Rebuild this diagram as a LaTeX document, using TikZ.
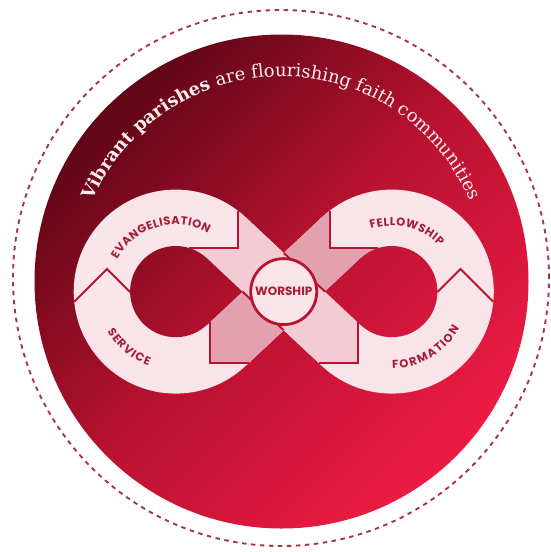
\documentclass[tikz,border=0pt]{standalone}
\usepackage{fontspec}
\setmainfont{DejaVu Serif}
\newfontfamily\labfont{Poppins}
\usetikzlibrary{calc,decorations.text}
\definecolor{bgdark}{HTML}{5E0615}
\definecolor{bgmid}{HTML}{BA1230}
\definecolor{bgbright}{HTML}{EC1B44}
\definecolor{pale}{HTML}{F9E4E9}
\definecolor{lightarm}{HTML}{F2CBD4}
\definecolor{darkarm}{HTML}{E3A1B0}
\definecolor{edge}{HTML}{B8142F}
\definecolor{labred}{HTML}{A51E38}
\definecolor{dashc}{HTML}{A83446}
\definecolor{titlec}{HTML}{FCEEF1}
\newcommand\titlebf{\fontsize{18}{19}\selectfont\bfseries}
\newcommand\titlemd{\fontsize{18}{19}\selectfont\mdseries}
\newcommand\labfmt{\labfont\bfseries\fontsize{11.5}{13}\selectfont}
\begin{document}
\begin{tikzpicture}[x=1pt,y=1pt,
  bgshade/.style={top color=bgdark, bottom color=bgbright, middle color=bgmid, shading angle=45},
  sep/.style={draw=edge, line width=2pt, line join=miter},
  lab/.style={decorate, decoration={text along path, text align=fit to path, text color=labred, text={#1}}}]
\useasboundingbox (0,0) rectangle (551,-552);
\coordinate (C) at (281.5,-281.5);
\coordinate (L) at (175.7,-291.6);
\coordinate (R) at (391.8,-291.6);
\coordinate (M) at (283.75,-291.6);
\coordinate (A1) at ($(L)+(46.92:45.6)$);
\coordinate (A2) at ($(L)+(46.92:102)$);
\coordinate (A3) at ($(R)+(226.92:45.6)$);
\coordinate (A4) at ($(R)+(226.92:102)$);
\coordinate (B1) at ($(L)+(-46.92:45.6)$);
\coordinate (B2) at ($(L)+(-46.92:102)$);
\coordinate (B3) at ($(R)+(133.08:45.6)$);
\coordinate (B4) at ($(R)+(133.08:102)$);
\coordinate (TL) at ($(L)+(66.74,0)$);
\coordinate (TR) at ($(R)+(-66.74,0)$);
% background
\shade[bgshade] (C) circle[radius=247];
\draw[dashc, line width=1.9pt, dash pattern=on 4.5pt off 4.5pt] (281,-278) circle[radius=268];
% pale infinity
\fill[pale] (L) circle[radius=102] (R) circle[radius=102];
\fill[pale] (A1)--(A2)--(A3)--(A4)--cycle;
\fill[pale] (B1)--(B2)--(B3)--(B4)--cycle;
% dark arm
\begin{scope}
\clip (210,0) -- (329.5,0) -- (329.5,-248) -- (551,-248) -- (551,-363) -- (210,-363) -- cycle;
\fill[darkarm] (B1)--(B2)--(B3)--(B4)--cycle;
\fill[darkarm] (L) -- ++(0:102) arc[start angle=0,end angle=-90,radius=102] -- cycle;
\fill[darkarm] (R) -- ++(90:102) arc[start angle=90,end angle=180,radius=102] -- cycle;
\end{scope}
% light arm
\begin{scope}
\clip (238,0) -- (357.5,0) -- (357.5,-363) -- (0,-363) -- (0,-248) -- (238,-248) -- cycle;
\fill[lightarm] (A1)--(A2)--(A3)--(A4)--cycle;
\fill[lightarm] (L) -- ++(0:102) arc[start angle=0,end angle=90,radius=102] -- cycle;
\fill[lightarm] (R) -- ++(180:102) arc[start angle=180,end angle=270,radius=102] -- cycle;
\end{scope}
% holes
\begin{scope}\clip (L) circle[radius=45.6]; \shade[bgshade] (C) circle[radius=247];\end{scope}
\begin{scope}\clip (L)--(A1)--(TL)--(B1)--cycle; \shade[bgshade] (C) circle[radius=247];\end{scope}
\begin{scope}\clip (R) circle[radius=45.6]; \shade[bgshade] (C) circle[radius=247];\end{scope}
\begin{scope}\clip (R)--(A3)--(TR)--(B3)--cycle; \shade[bgshade] (C) circle[radius=247];\end{scope}
% separators
\draw[sep] (74.2,-301.8) -- (107,-269) -- (130.1,-292.1);
\draw[sep] (493.3,-301.8) -- (460.5,-269) -- (437.4,-292.1);
\draw[sep] (238,-210.8) -- (238,-248) -- (189.1,-248);
\draw[sep] (329.5,-210.8) -- (329.5,-248) -- (378.4,-248);
\draw[sep] (210,-321.9) -- (210,-363) -- (248.6,-363);
\draw[sep] (357.5,-321.9) -- (357.5,-363) -- (318.9,-363);
\draw[sep] (TL) -- (283.75,-330.2);
\draw[sep] (283.75,-253.0) -- (TR);
% worship
\node[circle, draw=edge, line width=2.8pt, fill=pale, minimum size=66pt, inner sep=0pt,
  text=labred, font=\labfont\bfseries\fontsize{12}{13}\selectfont] (W) at (M) {WORSHIP};
% labels
\path[lab={|\labfmt|EVANGELISATION}] ($(L)+(151:67)$) arc[start angle=151,end angle=61,radius=67];
\path[lab={|\labfmt|FELLOWSHIP}] ($(R)+(108.5:66)$) arc[start angle=108.5,end angle=43.7,radius=66];
\path[lab={|\labfmt|SERVICE}] ($(L)+(210:79)$) arc[start angle=210,end angle=250,radius=79];
\path[lab={|\labfmt|FORMATION}] ($(R)+(270.4:77)$) arc[start angle=270.4,end angle=331.4,radius=77];
% title
\path[decorate, decoration={text along path, text align=center, text color=titlec,
  text={|\titlebf|Vibrant parishes |\titlemd|are flourishing faith communities}}]
  ($(C)+(180:205)$) arc[start angle=180,end angle=0,radius=205];
\end{tikzpicture}
\end{document}
